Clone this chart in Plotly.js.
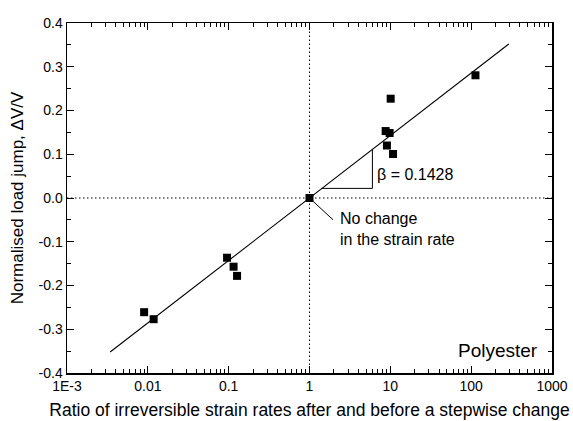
<!DOCTYPE html>
<html>
<head>
<meta charset="utf-8">
<script src="https://cdn.plot.ly/plotly-3.0.1.min.js"></script>
<style>html,body{margin:0;padding:0;background:#fff}#chart{width:573px;height:421px}</style>
</head>
<body>
<div id="chart"></div>
<script>
// Data
const ratio = [0.0090, 0.0118, 0.0955, 0.115, 0.127, 1.0, 8.75, 9.8, 9.08, 10.8, 10.1, 113];
const loadJump = [-0.261, -0.277, -0.1365, -0.157, -0.178, 0.0, 0.153, 0.1486, 0.120, 0.1006, 0.227, 0.2805];
const beta = 0.1428;
const fitX = [0.00342, 292];
const xTickVals = [0.001, 0.01, 0.1, 1, 10, 100, 1000];
const xTickText = ["1E-3", "0.01", "0.1", "1", "10", "100", "1000"];
const yTickVals = [-0.4, -0.3, -0.2, -0.1, 0.0, 0.1, 0.2, 0.3, 0.4];
const yTickText = ["-0.4", "-0.3", "-0.2", "-0.1", "0.0", "0.1", "0.2", "0.3", "0.4"];
const triBaseY = 0.022, triRightX = 6;

const fitY = fitX.map(x => beta * Math.log10(x));
const xMinor = [];
for (let e = -3; e < 3; e++) for (let m = 2; m <= 9; m++) xMinor.push(m * Math.pow(10, e));
const yMinor = [];
for (let v = -0.35; v < 0.4; v += 0.1) yMinor.push(Math.round(v * 100) / 100);

const triX = [Math.pow(10, triBaseY / beta), triRightX, triRightX];
const triY = [triBaseY, triBaseY, beta * Math.log10(triRightX)];

const dotted = {color: '#000', width: 1, dash: '1.5px,2.5px'};
const traces = [
  {x: [1, 1], y: [-0.4, 0.4], mode: 'lines', line: dotted, hoverinfo: 'skip'},
  {x: [0.001, 1000], y: [0, 0], mode: 'lines', line: dotted, hoverinfo: 'skip'},
  {x: fitX, y: fitY, mode: 'lines', line: {color: '#000', width: 1.1}, hoverinfo: 'skip'},
  {x: triX, y: triY, mode: 'lines', line: {color: '#000', width: 1}, hoverinfo: 'skip'},
  {x: ratio, y: loadJump, mode: 'markers', marker: {symbol: 'square', size: 8, color: '#000'}}
];

const font = {family: 'Liberation Sans, Arial, sans-serif', color: '#000'};
const layout = {
  width: 573, height: 421,
  margin: {l: 67, r: 21, t: 23, b: 48},
  paper_bgcolor: '#fff', plot_bgcolor: '#fff',
  showlegend: false,
  font: Object.assign({size: 14}, font),
  xaxis: {
    type: 'log', range: [-3, 3],
    tickmode: 'array', tickvals: xTickVals, ticktext: xTickText,
    ticks: 'inside', ticklen: 7, tickwidth: 1, tickcolor: '#000',
    minor: {tickmode: 'array', tickvals: xMinor, ticks: 'inside', ticklen: 4, tickcolor: '#000', showgrid: false},
    showline: true, linecolor: '#000', linewidth: 1.5, mirror: 'ticks',
    showgrid: false, zeroline: false,
    tickfont: Object.assign({size: 14}, font),
    title: {text: 'Ratio of irreversible strain rates after and before a stepwise change', font: Object.assign({size: 17.5}, font), standoff: 10}
  },
  yaxis: {
    range: [-0.4, 0.4],
    tickmode: 'array', tickvals: yTickVals, ticktext: yTickText,
    ticks: 'inside', ticklen: 7, tickwidth: 1, tickcolor: '#000',
    minor: {tickmode: 'array', tickvals: yMinor, ticks: 'inside', ticklen: 4, tickcolor: '#000', showgrid: false},
    showline: true, linecolor: '#000', linewidth: 1.5, mirror: 'ticks',
    showgrid: false, zeroline: false,
    tickfont: Object.assign({size: 14}, font),
    title: {text: 'Normalised load jump, \u0394V/V', font: Object.assign({size: 17}, font), standoff: 10}
  },
  annotations: [
    {x: Math.log10(6.4), y: 0.053, xref: 'x', yref: 'y', text: '\u03b2 = 0.1428', showarrow: false, xanchor: 'left', yanchor: 'middle', font: Object.assign({size: 16}, font)},
    {x: 0, y: 0, xref: 'x', yref: 'y', text: ' ', showarrow: true, arrowhead: 0, arrowwidth: 1, arrowcolor: '#000', ax: 27, ay: 25, standoff: 3},
    {x: Math.log10(2.25), y: -0.07, xref: 'x', yref: 'y', text: 'No change<br>in the strain rate', showarrow: false, xanchor: 'left', yanchor: 'middle', align: 'left', font: Object.assign({size: 16}, font)},
    {x: 0.975, y: 0.065, xref: 'paper', yref: 'paper', text: 'Polyester', showarrow: false, xanchor: 'right', yanchor: 'middle', font: Object.assign({size: 19}, font)}
  ]
};

Plotly.newPlot('chart', traces, layout, {displayModeBar: false, staticPlot: true});
</script>
</body>
</html>
